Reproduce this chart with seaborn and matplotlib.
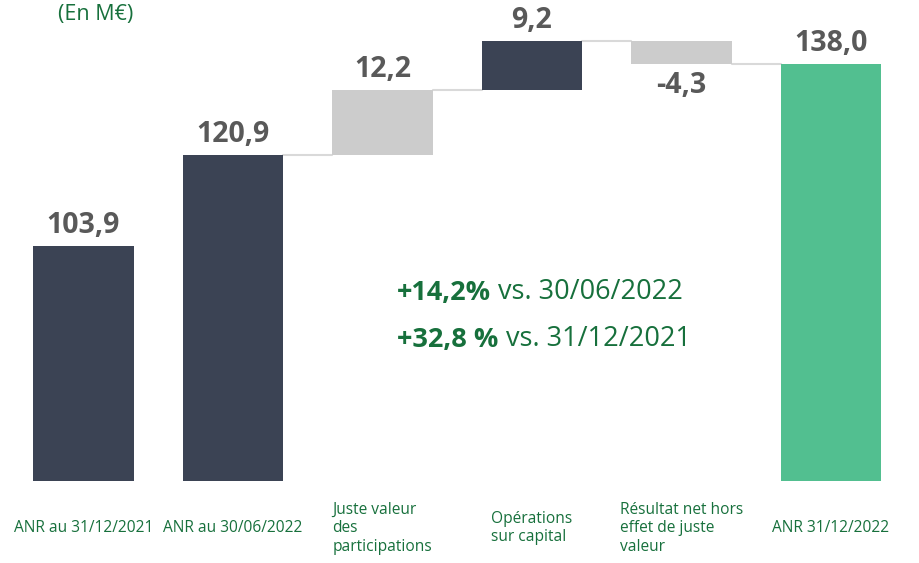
import matplotlib
matplotlib.use('Agg')
import matplotlib.pyplot as plt
import seaborn as sns
import numpy as np

sns.set_theme(style='white')
plt.rcParams['font.family'] = ['Open Sans', 'DejaVu Sans']

# data
labels = ['ANR au 31/12/2021', 'ANR au 30/06/2022', 'Juste valeur\ndes\nparticipations',
          'Opérations\nsur capital', 'Résultat net hors\neffet de juste\nvaleur', 'ANR 31/12/2022']
values = [103.9, 120.9, 12.2, 9.2, -4.3, 138.0]
kinds = ['total', 'total', 'delta', 'delta', 'delta', 'total']
colors = ['#3B4354', '#3B4354', '#CCCCCC', '#3B4354', '#CCCCCC', '#52BF90']
growth = [('+14,2%', ' vs. 30/06/2022'), ('+32,8 %', ' vs. 31/12/2021')]

GREEN_TXT = '#17703C'
VAL_TXT = '#595959'

# waterfall bottoms / heights
bottoms, heights = [], []
level = 0.0
for v, k in zip(values, kinds):
    if k == 'total':
        bottoms.append(0.0)
        heights.append(v)
        level = v
    else:
        start = level
        level = level + v
        bottoms.append(min(start, level))
        heights.append(abs(v))
bottoms = np.array(bottoms)
heights = np.array(heights)
tops = bottoms + heights

fig = plt.figure(figsize=(9.2, 5.63), dpi=100)
ax = fig.add_axes([0.0095, 0.1456, 0.975, 0.8544])

sns.barplot(x=labels, y=heights, bottom=bottoms, width=0.67, color=colors[0],
            ax=ax, linewidth=0, saturation=1)
for p, c in zip(ax.patches, colors):
    p.set_facecolor(c)

# connectors between consecutive bars (running level)
running = values[1]
for i in range(1, 5):
    nxt = running + values[i + 1] if kinds[i + 1] == 'delta' else values[i + 1]
    ax.plot([i + 0.335, i + 1 - 0.335], [running, running], color='#D9D9D9', lw=1.5, zorder=0)
    running = nxt

# value labels
for i, (v, k) in enumerate(zip(values, kinds)):
    txt = f'{v:.1f}'.replace('.', ',')
    if v >= 0:
        ax.annotate(txt, (i, tops[i]), xytext=(0, 4), textcoords='offset points',
                    ha='center', va='bottom', fontsize=20.5, fontweight='bold', color=VAL_TXT)
    else:
        ax.annotate(txt, (i, bottoms[i]), xytext=(0, -5), textcoords='offset points',
                    ha='center', va='top', fontsize=20.5, fontweight='bold', color=VAL_TXT)

# growth notes
for (bold, rest), y in zip(growth, [0.391, 0.293]):
    t = ax.text(0.433, y, bold, transform=ax.transAxes, fontsize=19.5, fontweight='bold',
                color=GREEN_TXT, va='center', ha='left')
    ax.annotate(rest, xy=(1, 0), xycoords=t, va='bottom', ha='left', fontsize=19.5, color=GREEN_TXT)

fig.text(0.063, 0.975, '(En M€)', fontsize=15.5, color=GREEN_TXT, ha='left', va='center')

ax.set_xlim(-0.5, 5.5)
ax.set_ylim(59.7, 150)
ax.set_yticks([])
sns.despine(ax=ax, left=True, bottom=True, top=True, right=True)
ax.tick_params(axis='x', length=0, pad=34, labelsize=11.2, labelcolor=GREEN_TXT)
for lab in ax.get_xticklabels():
    lab.set_va('center')
    lab.set_multialignment('left')

fig.savefig('out.png', dpi=100)
